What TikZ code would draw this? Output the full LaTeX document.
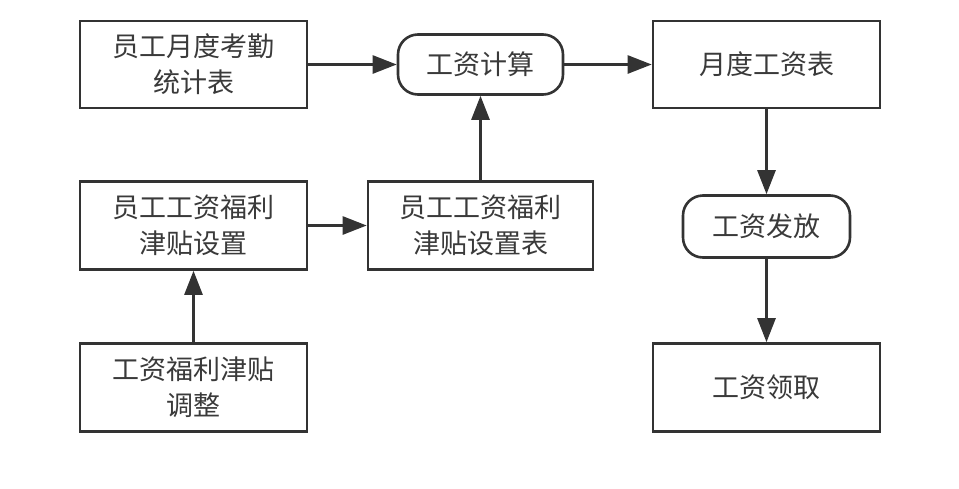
\documentclass[tikz,border=0pt]{standalone}
\usepackage{fontspec}
\newfontfamily\cjk{Noto Sans CJK SC}
\usetikzlibrary{arrows.meta}
\definecolor{ln}{HTML}{333333}
\definecolor{tx}{HTML}{3A3A3A}
\begin{document}
\begin{tikzpicture}[x=1pt,y=-1pt,
  box/.style={draw=ln,line width=2.6pt,fill=white,text=tx,align=center,
    font=\cjk\fontsize{27}{36}\selectfont,inner sep=0pt},
  rbox/.style={box,rounded corners=20pt},
  arr/.style={draw=ln,line width=2.6pt,-{Triangle[length=24pt,width=18pt]}}]
\useasboundingbox (0,0) rectangle (959,488);
\node[box,minimum width=227pt,minimum height=87pt] (A) at (193.5,64.5) {员工月度考勤\\统计表};
\node[rbox,minimum width=165pt,minimum height=60pt] (B) at (480.5,64.5) {工资计算};
\node[box,minimum width=227pt,minimum height=87pt] (C) at (766.5,64.5) {月度工资表};
\node[box,minimum width=227pt,minimum height=88pt] (D) at (193.5,225.5) {员工工资福利\\津贴设置};
\node[box,minimum width=225pt,minimum height=88pt] (E) at (480.5,225.5) {员工工资福利\\津贴设置表};
\node[rbox,minimum width=167pt,minimum height=62pt] (F) at (766.5,226.5) {工资发放};
\node[box,minimum width=227pt,minimum height=88pt] (G) at (193.5,387.5) {工资福利津贴\\调整};
\node[box,minimum width=227pt,minimum height=88pt] (H) at (766.5,387.5) {工资领取};
\draw[arr] (A) -- (B);
\draw[arr] (B) -- (C);
\draw[arr] (E) -- (B);
\draw[arr] (D) -- (E);
\draw[arr] (G) -- (D);
\draw[arr] (C) -- (F);
\draw[arr] (F) -- (H);
\end{tikzpicture}
\end{document}
